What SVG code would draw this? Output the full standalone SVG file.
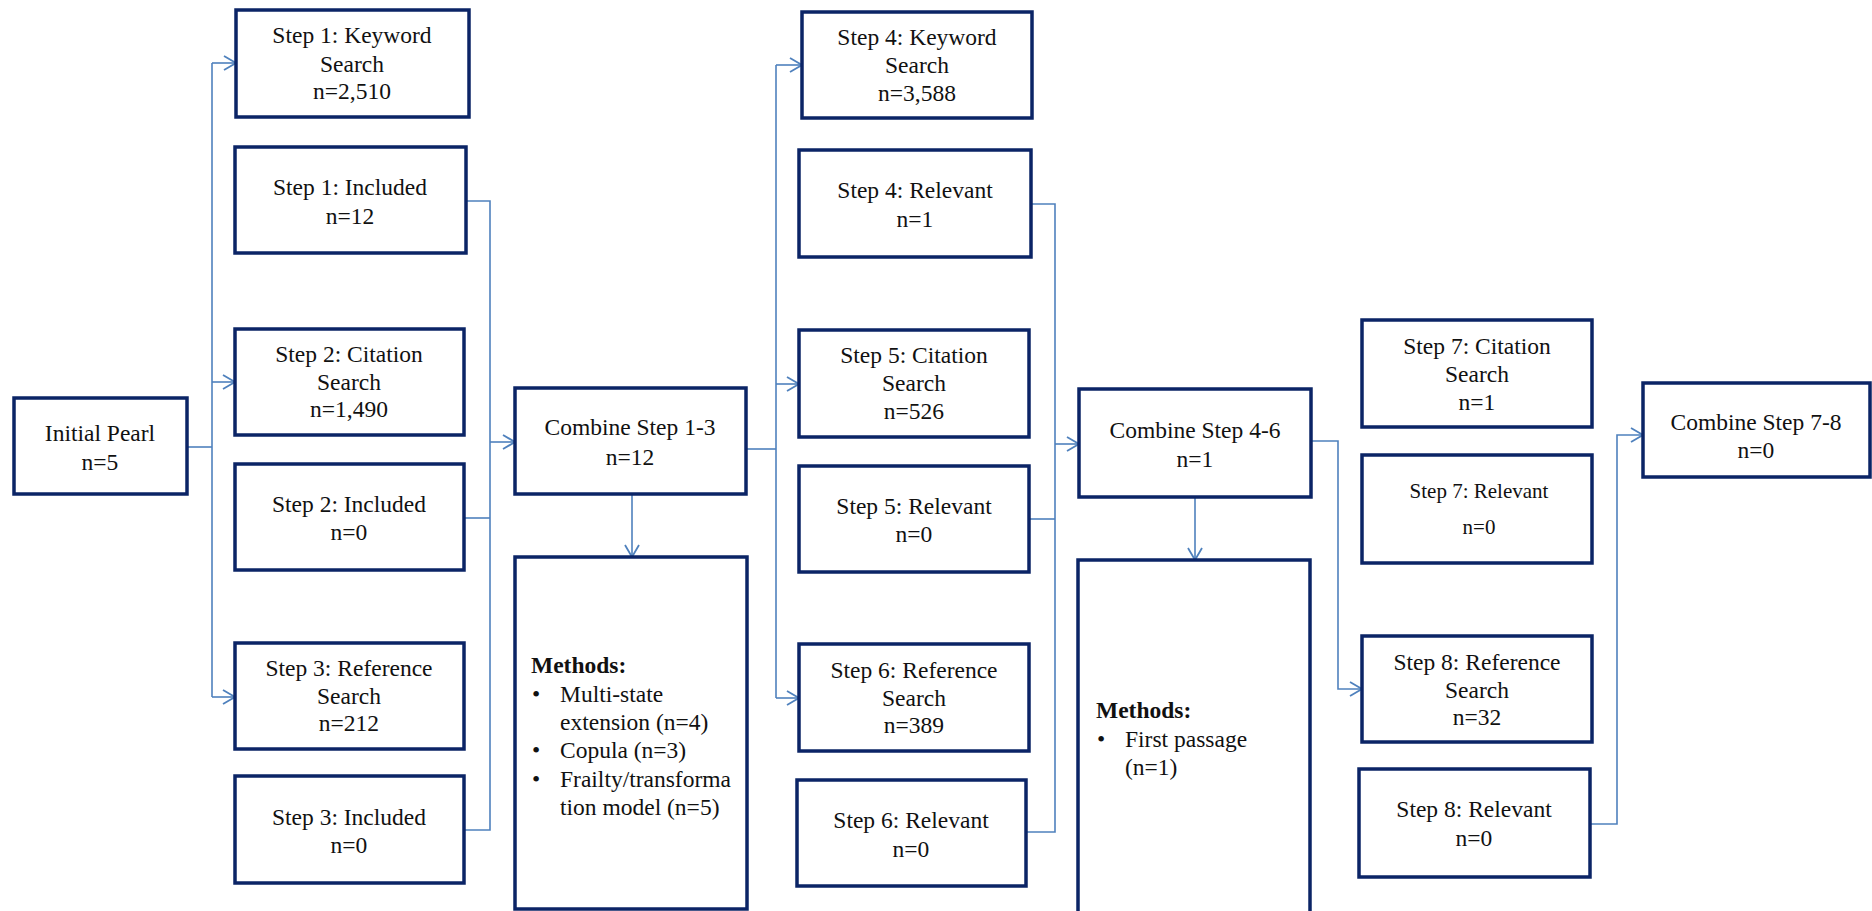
<svg xmlns="http://www.w3.org/2000/svg" width="1872" height="911" viewBox="0 0 1872 911">
<style>
.box{fill:#fff;stroke:#0b2466;stroke-width:3.5}
.t{font-family:"Liberation Serif","Times New Roman","DejaVu Serif",serif;font-size:23.5px;fill:#111;text-anchor:middle}
.s{font-size:21px}
.l{text-anchor:start}
.b{font-weight:bold}
.c{fill:none;stroke:#4f81bd;stroke-width:1.6}
</style>
<defs>
<marker id="ar" markerUnits="userSpaceOnUse" markerWidth="16" markerHeight="18" refX="13" refY="8" orient="auto">
<path d="M1,1 L13,8 L1,15" fill="none" stroke="#4f81bd" stroke-width="1.8"/>
</marker>
</defs>
<rect width="1872" height="911" fill="#fff"/>
<g id="connectors">
<path class="c" d="M187,447 H212"/>
<path class="c" d="M212,63 V697"/>
<path class="c" d="M212,63 H236" marker-end="url(#ar)"/>
<path class="c" d="M212,382 H235" marker-end="url(#ar)"/>
<path class="c" d="M212,697 H235" marker-end="url(#ar)"/>
<path class="c" d="M466,201 H490 V830 H464"/>
<path class="c" d="M464,518 H490"/>
<path class="c" d="M490,442 H515" marker-end="url(#ar)"/>
<path class="c" d="M632,494 V557" marker-end="url(#ar)"/>
<path class="c" d="M746,449 H776"/>
<path class="c" d="M776,65 V698"/>
<path class="c" d="M776,65 H802" marker-end="url(#ar)"/>
<path class="c" d="M776,384 H799" marker-end="url(#ar)"/>
<path class="c" d="M776,698 H799" marker-end="url(#ar)"/>
<path class="c" d="M1031,204 H1055 V832 H1026"/>
<path class="c" d="M1029,519 H1055"/>
<path class="c" d="M1055,444 H1079" marker-end="url(#ar)"/>
<path class="c" d="M1195,497 V560" marker-end="url(#ar)"/>
<path class="c" d="M1311,441 H1338 V689 H1362" marker-end="url(#ar)"/>
<path class="c" d="M1590,824 H1617 V435 H1643" marker-end="url(#ar)"/>
</g>
<g font-family="Liberation Serif, Times New Roman, DejaVu Serif, serif">
<g id="initial"><rect class="box" x="14" y="398" width="173" height="96"/><text class="t" x="100" y="441">Initial Pearl</text><text class="t" x="100" y="470">n=5</text></g>
<g id="s1k"><rect class="box" x="236" y="10" width="233" height="107"/><text class="t" x="352" y="43">Step 1: Keyword</text><text class="t" x="352" y="72">Search</text><text class="t" x="352" y="99">n=2,510</text></g>
<g id="s1i"><rect class="box" x="235" y="147" width="231" height="106"/><text class="t" x="350" y="195">Step 1: Included</text><text class="t" x="350" y="224">n=12</text></g>
<g id="s2c"><rect class="box" x="235" y="329" width="229" height="106"/><text class="t" x="349" y="362">Step 2: Citation</text><text class="t" x="349" y="390">Search</text><text class="t" x="349" y="417">n=1,490</text></g>
<g id="s2i"><rect class="box" x="235" y="464" width="229" height="106"/><text class="t" x="349" y="512">Step 2: Included</text><text class="t" x="349" y="540">n=0</text></g>
<g id="s3r"><rect class="box" x="235" y="643" width="229" height="106"/><text class="t" x="349" y="676">Step 3: Reference</text><text class="t" x="349" y="704">Search</text><text class="t" x="349" y="731">n=212</text></g>
<g id="s3i"><rect class="box" x="235" y="776" width="229" height="107"/><text class="t" x="349" y="825">Step 3: Included</text><text class="t" x="349" y="853">n=0</text></g>
<g id="c13"><rect class="box" x="515" y="388" width="231" height="106"/><text class="t" x="630" y="435">Combine Step 1-3</text><text class="t" x="630" y="465">n=12</text></g>
<g id="m1"><rect class="box" x="515" y="557" width="232" height="352"/>
<text class="t l b" x="531" y="673">Methods:</text>
<text class="t l" x="532" y="702">•</text><text class="t l" x="560" y="702">Multi-state</text>
<text class="t l" x="560" y="730">extension (n=4)</text>
<text class="t l" x="532" y="758">•</text><text class="t l" x="560" y="758">Copula (n=3)</text>
<text class="t l" x="532" y="787">•</text><text class="t l" x="560" y="787">Frailty/transforma</text>
<text class="t l" x="560" y="815">tion model (n=5)</text></g>
<g id="s4k"><rect class="box" x="802" y="12" width="230" height="106"/><text class="t" x="917" y="45">Step 4: Keyword</text><text class="t" x="917" y="73">Search</text><text class="t" x="917" y="101">n=3,588</text></g>
<g id="s4r"><rect class="box" x="799" y="150" width="232" height="107"/><text class="t" x="915" y="198">Step 4: Relevant</text><text class="t" x="915" y="227">n=1</text></g>
<g id="s5c"><rect class="box" x="799" y="330" width="230" height="107"/><text class="t" x="914" y="363">Step 5: Citation</text><text class="t" x="914" y="391">Search</text><text class="t" x="914" y="419">n=526</text></g>
<g id="s5r"><rect class="box" x="799" y="466" width="230" height="106"/><text class="t" x="914" y="514">Step 5: Relevant</text><text class="t" x="914" y="542">n=0</text></g>
<g id="s6r"><rect class="box" x="799" y="644" width="230" height="107"/><text class="t" x="914" y="678">Step 6: Reference</text><text class="t" x="914" y="706">Search</text><text class="t" x="914" y="733">n=389</text></g>
<g id="s6rel"><rect class="box" x="797" y="780" width="229" height="106"/><text class="t" x="911" y="828">Step 6: Relevant</text><text class="t" x="911" y="857">n=0</text></g>
<g id="c46"><rect class="box" x="1079" y="389" width="232" height="108"/><text class="t" x="1195" y="438">Combine Step 4-6</text><text class="t" x="1195" y="467">n=1</text></g>
<g id="m2"><rect class="box" x="1078" y="560" width="232" height="380"/>
<text class="t l b" x="1096" y="718">Methods:</text>
<text class="t l" x="1097" y="747">•</text><text class="t l" x="1125" y="747">First passage</text>
<text class="t l" x="1125" y="775">(n=1)</text></g>
<g id="s7c"><rect class="box" x="1362" y="320" width="230" height="107"/><text class="t" x="1477" y="354">Step 7: Citation</text><text class="t" x="1477" y="382">Search</text><text class="t" x="1477" y="410">n=1</text></g>
<g id="s7r"><rect class="box" x="1362" y="455" width="230" height="108"/><text class="t s" x="1479" y="498">Step 7: Relevant</text><text class="t s" x="1479" y="534">n=0</text></g>
<g id="s8r"><rect class="box" x="1362" y="636" width="230" height="106"/><text class="t" x="1477" y="670">Step 8: Reference</text><text class="t" x="1477" y="698">Search</text><text class="t" x="1477" y="725">n=32</text></g>
<g id="s8rel"><rect class="box" x="1359" y="769" width="231" height="108"/><text class="t" x="1474" y="817">Step 8: Relevant</text><text class="t" x="1474" y="846">n=0</text></g>
<g id="c78"><rect class="box" x="1643" y="383" width="227" height="94"/><text class="t" x="1756" y="430">Combine Step 7-8</text><text class="t" x="1756" y="458">n=0</text></g>
</g>
</svg>
